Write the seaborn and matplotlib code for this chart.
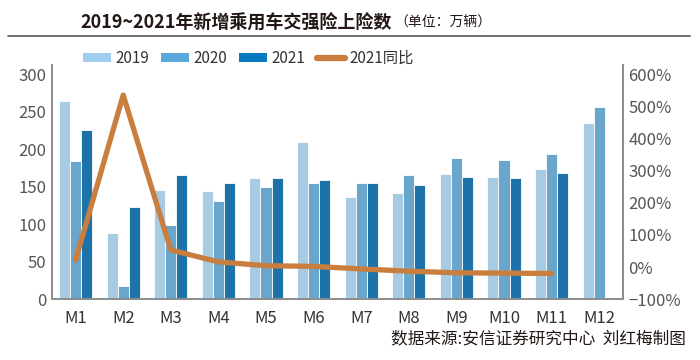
import numpy as np
import pandas as pd
import matplotlib.pyplot as plt
import seaborn as sns
from matplotlib.patches import Patch
from matplotlib.lines import Line2D

months = ["M1", "M2", "M3", "M4", "M5", "M6", "M7", "M8", "M9", "M10", "M11", "M12"]
v2019 = [264, 88, 145, 144, 162, 209, 136, 142, 167, 163, 174, 235]
v2020 = [184, 17, 99, 131, 149, 155, 155, 165, 188, 185, 193, 256]
v2021 = [226, 123, 166, 155, 162, 159, 155, 152, 163, 161, 168, np.nan]
yoy_2021 = [22, 535, 53, 16, 4, 2, -6, -13, -18, -19, -20]
years = ["2019", "2020", "2021"]
colors = ["#9ecdee", "#5aa8dc", "#0679c0"]
line_color = "#c97e3e"

df = pd.DataFrame({"month": months * 3,
                   "year": np.repeat(years, len(months)),
                   "value": v2019 + v2020 + v2021})

sns.set_style("white")
plt.rcParams["font.family"] = ["Noto Sans CJK SC", "DejaVu Sans"]

fig = plt.figure(figsize=(7, 3.6), dpi=100)
ax = fig.add_axes([0.074, 0.169, 0.816, 0.65])

sns.barplot(data=df, x="month", y="value", hue="year", palette=colors,
            width=0.7, edgecolor="white", linewidth=0.6, legend=False, ax=ax)
ax.set_ylim(0, 312)
ax.set_yticks(range(0, 301, 50))
ax.set_xlabel("")
ax.set_ylabel("")
ax.set_xlim(-0.5, len(months) - 0.5)

ax2 = ax.twinx()
sns.lineplot(x=np.arange(len(yoy_2021)), y=yoy_2021, color=line_color,
             linewidth=3.8, ax=ax2)
ax2.set_ylim(-100, 628)
ax2.set_yticks(range(-100, 601, 100))
ax2.set_yticklabels([f"{t}%".replace("-", "−") for t in range(-100, 601, 100)])

for a in (ax, ax2):
    for s in a.spines.values():
        s.set_color("#8c8c8c")
        s.set_linewidth(1.4)
    a.spines["top"].set_visible(False)
    a.tick_params(length=0, labelsize=12, colors="#555555", pad=4)
ax.tick_params(axis="x", pad=8)
ax.spines["right"].set_visible(False)
ax2.spines["left"].set_visible(False)
ax2.spines["bottom"].set_visible(False)
for lbl in ax.get_xticklabels():
    lbl.set_color("#333333")

# title, with the unit note placed right after it
t = fig.text(0.115, 0.937, "2019~2021年新增乘用车交强险上险数", fontsize=13,
             fontweight="bold", color="#231815", ha="left", va="center")
fig.canvas.draw()
bb = t.get_window_extent().transformed(fig.transFigure.inverted())
fig.text(bb.x1 + 0.004, 0.937, "（单位：万辆）", fontsize=10, color="#231815",
         ha="left", va="center")
fig.add_artist(Line2D([0.012, 0.985], [0.9, 0.9], color="#555555", linewidth=1.2))

handles = [Patch(facecolor=c, edgecolor="none") for c in colors]
handles.append(Line2D([], [], color=line_color, linewidth=4.5))
fig.legend(handles, years + ["2021同比"], loc="center", ncol=4,
           bbox_to_anchor=(0.355, 0.838), frameon=False, fontsize=11,
           handlelength=1.8, handleheight=0.6, handletextpad=0.3,
           columnspacing=0.8, labelcolor="#333333")

fig.text(0.98, 0.055, "数据来源:安信证券研究中心  刘红梅制图", fontsize=12,
         color="#231815", ha="right", va="center")

fig.savefig("out.png", dpi=100)
